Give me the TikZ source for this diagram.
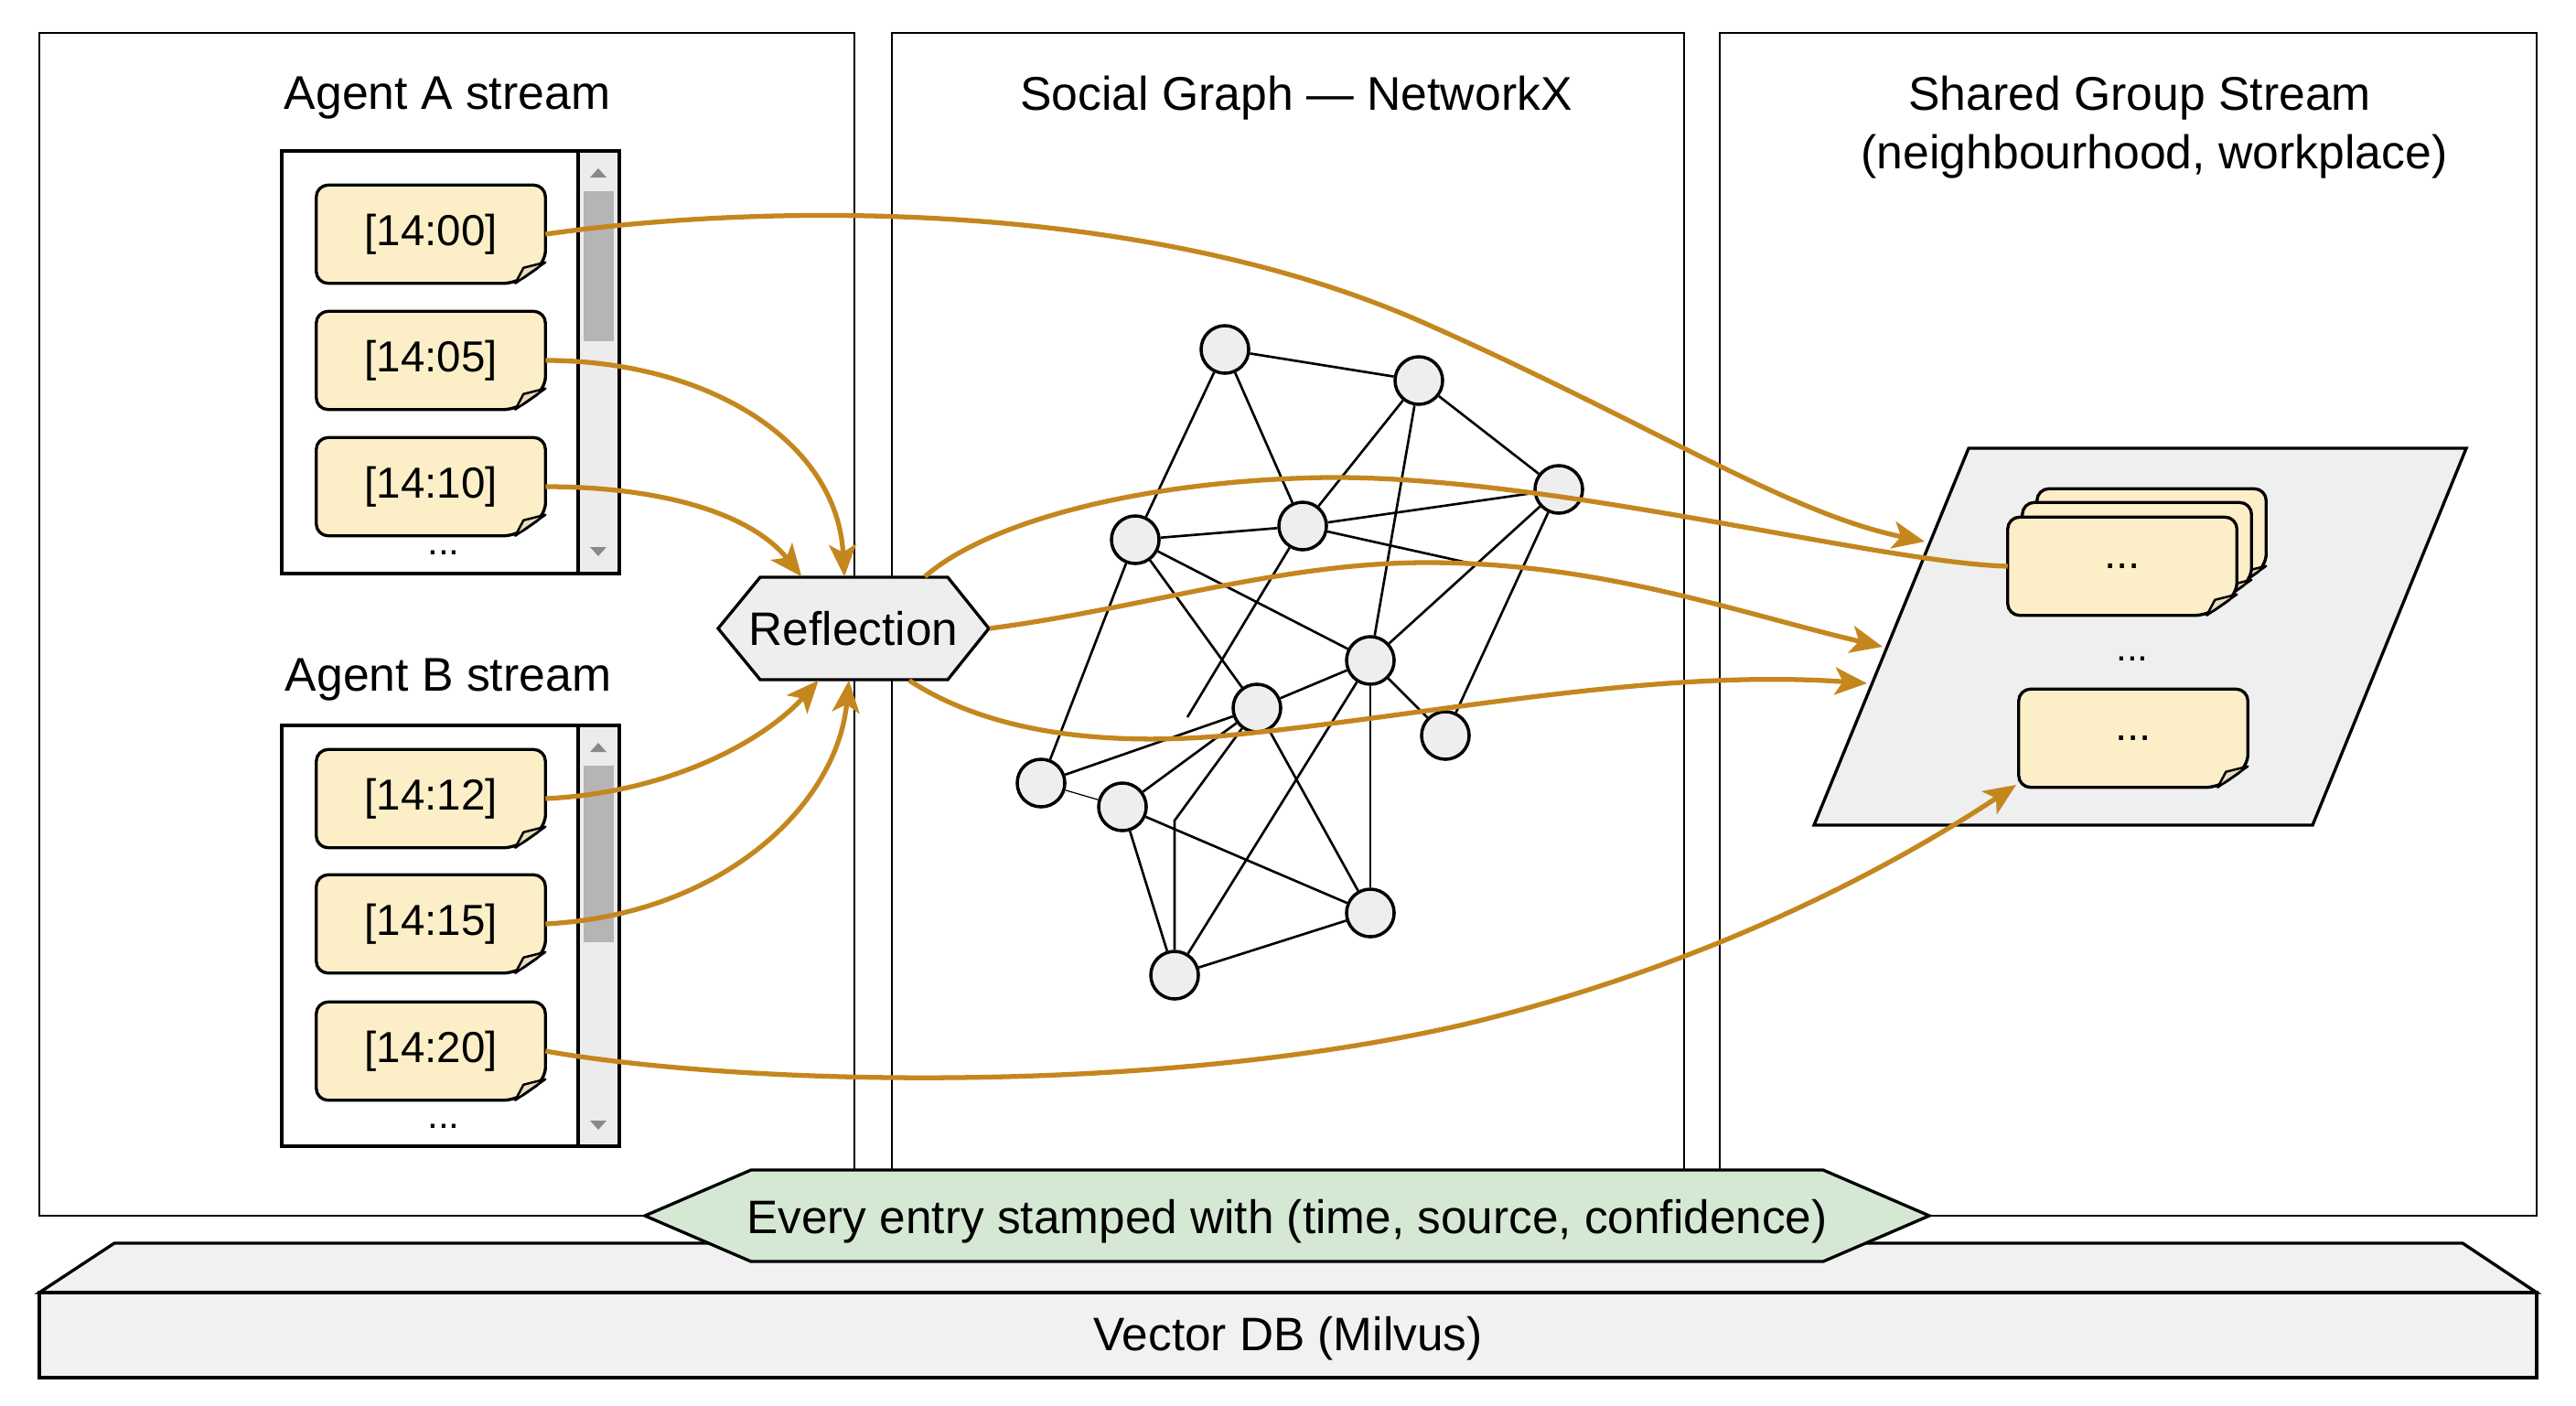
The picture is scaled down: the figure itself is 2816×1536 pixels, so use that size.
\documentclass[tikz,border=0pt]{standalone}
\usepackage{fontspec}
\setmainfont{Liberation Sans}
\usetikzlibrary{calc,arrows.meta}

\definecolor{notefill}{HTML}{FCEFC8}
\definecolor{flapfill}{HTML}{E9DCC0}
\definecolor{arrowc}{HTML}{C4871E}
\definecolor{lightg}{HTML}{EEEEEE}
\definecolor{trackg}{HTML}{ECECEC}
\definecolor{thumbg}{HTML}{B5B5B5}
\definecolor{scrollarr}{HTML}{8A8A8A}
\definecolor{bannerg}{HTML}{D5E8D4}
\definecolor{dbfill}{HTML}{F1F1F1}
\definecolor{pgfill}{HTML}{EFEFEF}

\newcommand\mynote[4]{% name, x, y, text
  \node[notebase] (#1) at (#2,#3) {};
  \draw[noteline,fill=notefill] ($(#1.south east)+(0cm,0.23cm)$) -- (#1.north east) -- (#1.north west) -- (#1.south west) -- ($(#1.south east)+(-0.33cm,0cm)$) -- cycle;
  \draw[flapline,fill=flapfill] ($(#1.south east)+(0cm,0.23cm)$) -- ($(#1.south east)+(-0.24cm,0.17cm)$) -- ($(#1.south east)+(-0.33cm,0cm)$) -- cycle;
  \node[notetext] (#1-t) at (#1) {#4};
}

\begin{document}
\begin{tikzpicture}[x=0.01cm,y=-0.01cm,
  panel/.style={draw=black,line width=0.8pt},
  title/.style={font=\fontsize{14.7pt}{17pt}\selectfont,inner sep=0pt},
  boxline/.style={draw=black,line width=0.95pt},
  notebase/.style={draw=none,minimum width=2.49cm,minimum height=1.06cm,inner sep=0pt},
  noteline/.style={draw=black,line width=0.95pt,rounded corners=0.13cm,line join=round},
  flapline/.style={draw=black,line width=0.7pt,line join=round},
  notetext/.style={font=\fontsize{13.5pt}{16pt}\selectfont,inner sep=0pt},
  dots/.style={font=\fontsize{12pt}{14pt}\selectfont,inner sep=0pt},
  gnode/.style={circle,draw=black,line width=1pt,fill=lightg,minimum size=0.52cm,inner sep=0pt},
  gedge/.style={draw=black,line width=0.75pt},
  arr/.style={draw=arrowc,line width=1.5pt,-{Stealth[length=10pt,width=8.5pt,inset=2.5pt]}},
  arrline/.style={draw=arrowc,line width=1.5pt},
  shapeline/.style={draw=black,line width=0.95pt,line join=miter},
  lbl/.style={font=\fontsize{14.6pt}{17pt}\selectfont,inner sep=0pt}]
\useasboundingbox (0,0) rectangle (2816,1536);
\fill[white] (0,0) rectangle (2816,1536);

% ---------- panels
\draw[panel] (43,36) rectangle (934,1329);
\draw[panel] (975,36) rectangle (1841,1329);
\draw[panel] (1880,36) rectangle (2773,1329);

\node[title] (tA) at (489,107) {Agent A stream};
\node[title] (tB) at (490,743) {Agent B stream};
\node[title] (tG) at (1417,107) {Social Graph — NetworkX};
\node[title] (tS1) at (2339,107) {Shared Group Stream};
\node[title] (tS2) at (2355,171) {(neighbourhood, workplace)};

% ---------- stream box A
\fill[white] (308,165) rectangle (677,627);
\fill[trackg] (632,165) rectangle (677,627);
\fill[thumbg] (638,209) rectangle (671,373);
\fill[scrollarr] (645,194) -- (663,194) -- (654,184) -- cycle;
\fill[scrollarr] (645,598) -- (663,598) -- (654,608) -- cycle;
\draw[boxline] (308,165) rectangle (677,627);
\draw[boxline] (632,165) -- (632,627);

% ---------- stream box B
\fill[white] (308,793) rectangle (677,1253);
\fill[trackg] (632,793) rectangle (677,1253);
\fill[thumbg] (638,837) rectangle (671,1030);
\fill[scrollarr] (645,822) -- (663,822) -- (654,812) -- cycle;
\fill[scrollarr] (645,1225) -- (663,1225) -- (654,1235) -- cycle;
\draw[boxline] (308,793) rectangle (677,1253);
\draw[boxline] (632,793) -- (632,1253);

\mynote{n00}{471}{256}{[14:00]}
\mynote{n05}{471}{394}{[14:05]}
\mynote{n10}{471}{532}{[14:10]}
\mynote{n12}{471}{873}{[14:12]}
\mynote{n15}{471}{1010}{[14:15]}
\mynote{n20}{471}{1149}{[14:20]}
\node[dots] (dA) at (485,604) {...};
\node[dots] (dB) at (485,1231) {...};

% ---------- social graph
\node[gnode] (g1) at (1339,382) {};
\node[gnode] (g2) at (1551,416) {};
\node[gnode] (g3) at (1704,535) {};
\node[gnode] (g4) at (1241,590) {};
\node[gnode] (g5) at (1424,575) {};
\node[gnode] (g6) at (1498,722) {};
\node[gnode] (g7) at (1374,774) {};
\node[gnode] (g8) at (1580,804) {};
\node[gnode] (g9) at (1138,856) {};
\node[gnode] (g10) at (1227,882) {};
\node[gnode] (g11) at (1498,998) {};
\node[gnode] (g12) at (1284,1066) {};
\coordinate (s1) at (1604,615);
\coordinate (s2) at (1298,784);
\coordinate (b1) at (1284,897);
\draw[gedge] (g1) -- (g2);
\draw[gedge] (g1) -- (g4);
\draw[gedge] (g1) -- (g5);
\draw[gedge] (g2) -- (g5);
\draw[gedge] (g2) -- (g6);
\draw[gedge] (g2) -- (g3);
\draw[gedge] (g4) -- (g5);
\draw[gedge] (g5) -- (g3);
\draw[gedge] (g5) -- (s1);
\draw[gedge] (g4) -- (g6);
\draw[gedge] (g4) -- (g7);
\draw[gedge] (g4) -- (g9);
\draw[gedge] (g5) -- (s2);
\draw[gedge] (g6) -- (g3);
\draw[gedge] (g3) -- (g8);
\draw[gedge] (g6) -- (g8);
\draw[gedge] (g6) -- (g7);
\draw[gedge] (g6) -- (g11);
\draw[gedge] (g6) -- (g12);
\draw[gedge] (g7) -- (g9);
\draw[gedge] (g7) -- (g10);
\draw[gedge] (g7) -- (g11);
\draw[gedge] (g7) -- (b1) -- (g12);
\draw[gedge,line width=0.35pt] (g9) -- (g10);
\draw[gedge] (g10) -- (g11);
\draw[gedge] (g10) -- (g12);
\draw[gedge] (g11) -- (g12);

% ---------- shared group stream
\draw[shapeline,fill=pgfill] (2152,490) -- (2696,490) -- (2528,902) -- (1983,902) -- cycle;
\mynote{cb2}{2352}{588}{}
\mynote{cb1}{2336}{603}{}
\mynote{cf}{2320}{619}{...}
\node[dots] (dmid) at (2331,720) {...};
\mynote{c2}{2332}{807}{...}

% ---------- reflection
\draw[shapeline,fill=lightg] (785,687) -- (831,631) -- (1036,631) -- (1081,687) -- (1036,743) -- (831,743) -- cycle;
\node[lbl,minimum width=2.96cm,minimum height=1.12cm] (refl) at (933,687) {Reflection};

% ---------- vector DB
\draw[shapeline,fill=dbfill] (125,1359) -- (2692,1359) -- (2773,1413) -- (43,1413) -- cycle;
\draw[shapeline,fill=dbfill] (43,1413) rectangle (2773,1506);
\node[lbl] (db) at (1408,1463) {Vector DB (Milvus)};

% ---------- banner
\draw[shapeline,fill=bannerg] (705,1329) -- (821,1279) -- (1993,1279) -- (2109,1329) -- (1993,1379) -- (821,1379) -- cycle;
\node[lbl] (banner) at (1407,1335) {Every entry stamped with (time, source, confidence)};

% ---------- arrows into reflection
\draw[arr] (n05.east) .. controls (770,394) and (915,480) .. (refl.100);
\draw[arr] (n10.east) .. controls (720,532) and (820,560) .. (refl.135);
\draw[arr] (n12.east) .. controls (740,866) and (840,805) .. (refl.-124);
\draw[arr] (n15.east) .. controls (790,1000) and (915,880) .. (refl.-95);

% ---------- arrows to shared stream
\coordinate (ta) at (2104,592);
\coordinate (tc) at (2058,707);
\coordinate (td) at (2041,747);
\coordinate (te) at (2204,858);
\draw[arr] (n00.east) .. controls (850,220) and (1250,220) .. (1550,350) .. controls (1800,460) and (1950,560) .. (ta);
\draw[arrline] (refl.36) .. controls (1080,570) and (1250,525) .. (1450,522) .. controls (1700,520) and (2050,615) .. (cf.west);
\draw[arr] (refl.east) .. controls (1250,665) and (1400,615) .. (1560,615) .. controls (1750,615) and (1900,670) .. (tc);
\draw[arr] (refl.-43) .. controls (1080,800) and (1200,815) .. (1330,805) .. controls (1550,785) and (1800,730) .. (td);
\draw[arr] (n20.east) .. controls (800,1185) and (1250,1200) .. (1600,1120) .. controls (1850,1060) and (2050,960) .. (te);
\end{tikzpicture}
\end{document}
